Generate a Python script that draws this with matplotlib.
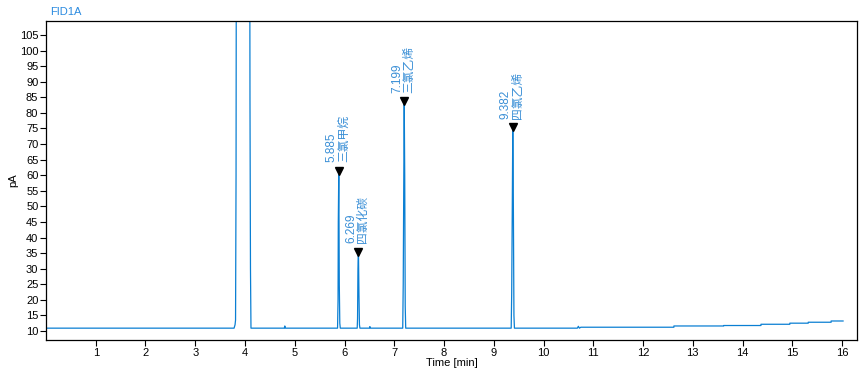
import matplotlib
matplotlib.use('Agg')
import matplotlib.pyplot as plt

plt.rcParams['font.family'] = ['Liberation Sans', 'Noto Sans CJK SC', 'DejaVu Sans']

# trace vertices (time [min], signal [pA])
time = [0.0, 3.78, 3.80, 3.81, 3.82, 3.83, 4.09, 4.10, 4.11, 4.12,
        4.79, 4.80, 4.81,
        5.86, 5.87, 5.875, 5.885, 5.895, 5.905, 5.915,
        6.255, 6.262, 6.27, 6.28, 6.29, 6.30, 6.31,
        6.50, 6.51, 6.52,
        7.17, 7.18, 7.19, 7.20, 7.21, 7.22, 7.23,
        9.35, 9.36, 9.372, 9.382, 9.392, 9.405, 9.415,
        10.68, 10.70, 10.72, 10.75,
        12.62, 13.62, 14.37, 14.95, 15.32, 15.78, 16.02]
signal = [10.9, 10.9, 12.0, 13.5, 60.0, 200.0, 200.0, 84.0, 30.0, 10.9,
          10.9, 11.6, 10.9,
          10.9, 20.0, 45.0, 61.5, 25.0, 12.5, 10.9,
          10.9, 14.0, 30.0, 35.5, 22.0, 12.0, 10.9,
          10.9, 11.4, 10.9,
          10.9, 25.0, 55.0, 83.8, 60.0, 18.0, 10.9,
          10.9, 22.0, 50.0, 75.5, 55.0, 15.0, 10.9,
          10.9, 11.5, 10.9, 11.2,
          11.6, 11.75, 12.15, 12.5, 12.8, 13.2, 13.2]

# late baseline is a staircase: hold value until next vertex
step_t = []
step_y = []
for i in range(len(time)):
    step_t.append(time[i])
    step_y.append(signal[i])
    if time[i] >= 10.75 and i + 1 < len(time):
        step_t.append(time[i + 1])
        step_y.append(signal[i])

peak_rt = [5.885, 6.269, 7.199, 9.382]
peak_h = [61.5, 35.5, 83.8, 75.5]
peak_names = ['三氯甲烷', '四氯化碳', '三氯乙烯', '四氯乙烯']

fig = plt.figure(figsize=(8.66, 3.68), dpi=100)
ax = fig.add_axes([0.0531, 0.0761, 0.9365, 0.8668])

ax.plot(step_t, step_y, color='#0a7fd3', lw=0.9)
ax.plot(peak_rt, peak_h, linestyle='none', marker='v', color='black', markersize=5.5)
for rt, h, name in zip(peak_rt, peak_h, peak_names):
    ax.text(rt - 0.02, h + 2.6, '%.3f\n%s' % (rt, name), rotation=90,
            ha='center', va='bottom', multialignment='left',
            color='#3a8fd6', fontsize=8.5, linespacing=1.0)

ax.set_xlim(0.0, 16.3)
ax.set_ylim(7.1, 109.5)
ax.set_xticks(range(1, 17))
ax.set_yticks(range(10, 106, 5))
ax.tick_params(labelsize=8, length=4, width=0.8, pad=1.5)
for s in ax.spines.values():
    s.set_linewidth(0.9)
ax.set_xlabel('Time [min]', fontsize=8, labelpad=0)
ax.set_ylabel('pA', fontsize=8, labelpad=1)
fig.text(50 / 866, 1 - 12 / 368, 'FID1A', color='#2b8be0', fontsize=8, va='center')

fig.savefig('out.png', dpi=100)
